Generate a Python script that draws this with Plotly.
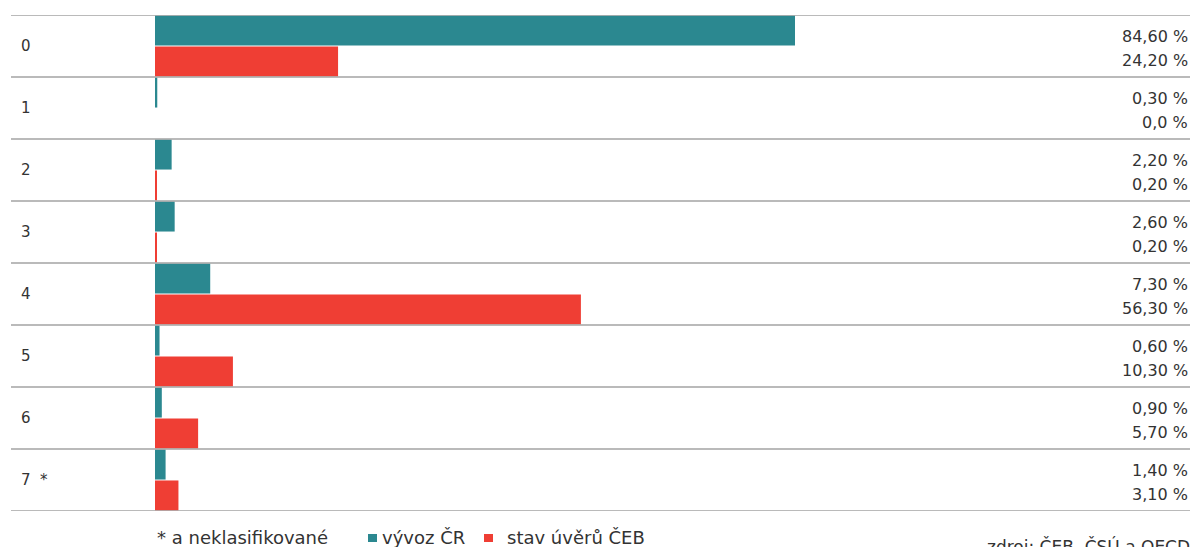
import plotly.graph_objects as go

# Sector codes (SITC) and shares in %
categories = ["0", "1", "2", "3", "4", "5", "6", "7 *"]
export_cr = [84.60, 0.30, 2.20, 2.60, 7.30, 0.60, 0.90, 1.40]
loans_ceb = [24.20, 0.0, 0.20, 0.20, 56.30, 10.30, 5.70, 3.10]

series_names = ["vývoz ČR", "stav úvěrů ČEB"]
TEAL = "#2b8890"
RED = "#ef3e34"
TEXT = "#333333"
FONT = "'DejaVu Sans', sans-serif"

W, H = 1193, 547
ML, MR, MT, MB = 11, 3, 15, 36
plot_w = W - ML - MR
plot_h = H - MT - MB
px_per_unit = 640 / 84.6
zero_px = 144
x_range = [-zero_px / px_per_unit, (plot_w - zero_px) / px_per_unit]


def px_x(px):
    return (px - ML) / plot_w


def px_y(py):
    return (H - MB - py) / plot_h


def fmt(v):
    if v == 0:
        return "0,0 %"
    return f"{v:.2f}".replace(".", ",") + " %"


ypos = list(range(len(categories)))

fig = go.Figure()
fig.add_trace(go.Bar(y=ypos, x=export_cr, orientation="h", name=series_names[0],
                     marker=dict(color=TEAL, line=dict(width=0)), hoverinfo="skip"))
fig.add_trace(go.Bar(y=ypos, x=loans_ceb, orientation="h", name=series_names[1],
                     marker=dict(color=RED, line=dict(width=0)), hoverinfo="skip"))

shapes = []
for i in range(len(categories) + 1):
    shapes.append(dict(type="line", xref="paper", yref="y", x0=0, x1=1,
                       y0=i - 0.5, y1=i - 0.5,
                       line=dict(color="#a3a3a3", width=1.5), layer="above"))

annotations = []
for i, cat in enumerate(categories):
    annotations.append(dict(xref="paper", yref="y", x=px_x(19), y=i,
                            text=cat.replace(" ", "&nbsp;&nbsp;"), showarrow=False,
                            xanchor="left", yanchor="middle",
                            font=dict(family=FONT, size=15, color=TEXT)))
    annotations.append(dict(xref="paper", yref="y", x=px_x(1190), y=i, yshift=10,
                            text=fmt(export_cr[i]), showarrow=False,
                            xanchor="right", yanchor="middle",
                            font=dict(family=FONT, size=16, color=TEXT)))
    annotations.append(dict(xref="paper", yref="y", x=px_x(1190), y=i, yshift=-14,
                            text=fmt(loans_ceb[i]), showarrow=False,
                            xanchor="right", yanchor="middle",
                            font=dict(family=FONT, size=16, color=TEXT)))

# footnote and legend under the plot
leg_font = dict(family=FONT, size=18, color=TEXT)
leg_y = px_y(537)
annotations.append(dict(xref="paper", yref="paper", x=px_x(156), y=leg_y,
                        text="* a neklasifikované", showarrow=False, borderpad=0,
                        xanchor="left", yanchor="middle", font=leg_font))
annotations.append(dict(xref="paper", yref="paper", x=px_x(381), y=leg_y,
                        text=series_names[0], showarrow=False, borderpad=0,
                        xanchor="left", yanchor="middle", font=leg_font))
annotations.append(dict(xref="paper", yref="paper", x=px_x(506), y=leg_y,
                        text=series_names[1], showarrow=False, borderpad=0,
                        xanchor="left", yanchor="middle", font=leg_font))
for x0, color in [(368, TEAL), (484, RED)]:
    shapes.append(dict(type="rect", xref="paper", yref="paper",
                       x0=px_x(x0), x1=px_x(x0 + 9), y0=px_y(542), y1=px_y(534),
                       fillcolor=color, line=dict(width=0)))

annotations.append(dict(xref="paper", yref="paper", x=px_x(1192), y=px_y(534),
                        text="zdroj: ČEB, ČSÚ a OECD", showarrow=False,
                        xanchor="right", yanchor="top",
                        font=dict(family=FONT, size=17, color=TEXT)))

fig.update_layout(
    width=W, height=H,
    margin=dict(l=ML, r=MR, t=MT, b=MB),
    paper_bgcolor="white", plot_bgcolor="white",
    barmode="group", bargap=0, bargroupgap=0.03,
    showlegend=False,
    xaxis=dict(range=x_range, showgrid=False, zeroline=False,
               showticklabels=False, fixedrange=True),
    yaxis=dict(range=[len(categories) - 0.5, -0.5], showgrid=False, zeroline=False,
               showticklabels=False, fixedrange=True),
    shapes=shapes, annotations=annotations,
)

fig.write_html("out.html")
